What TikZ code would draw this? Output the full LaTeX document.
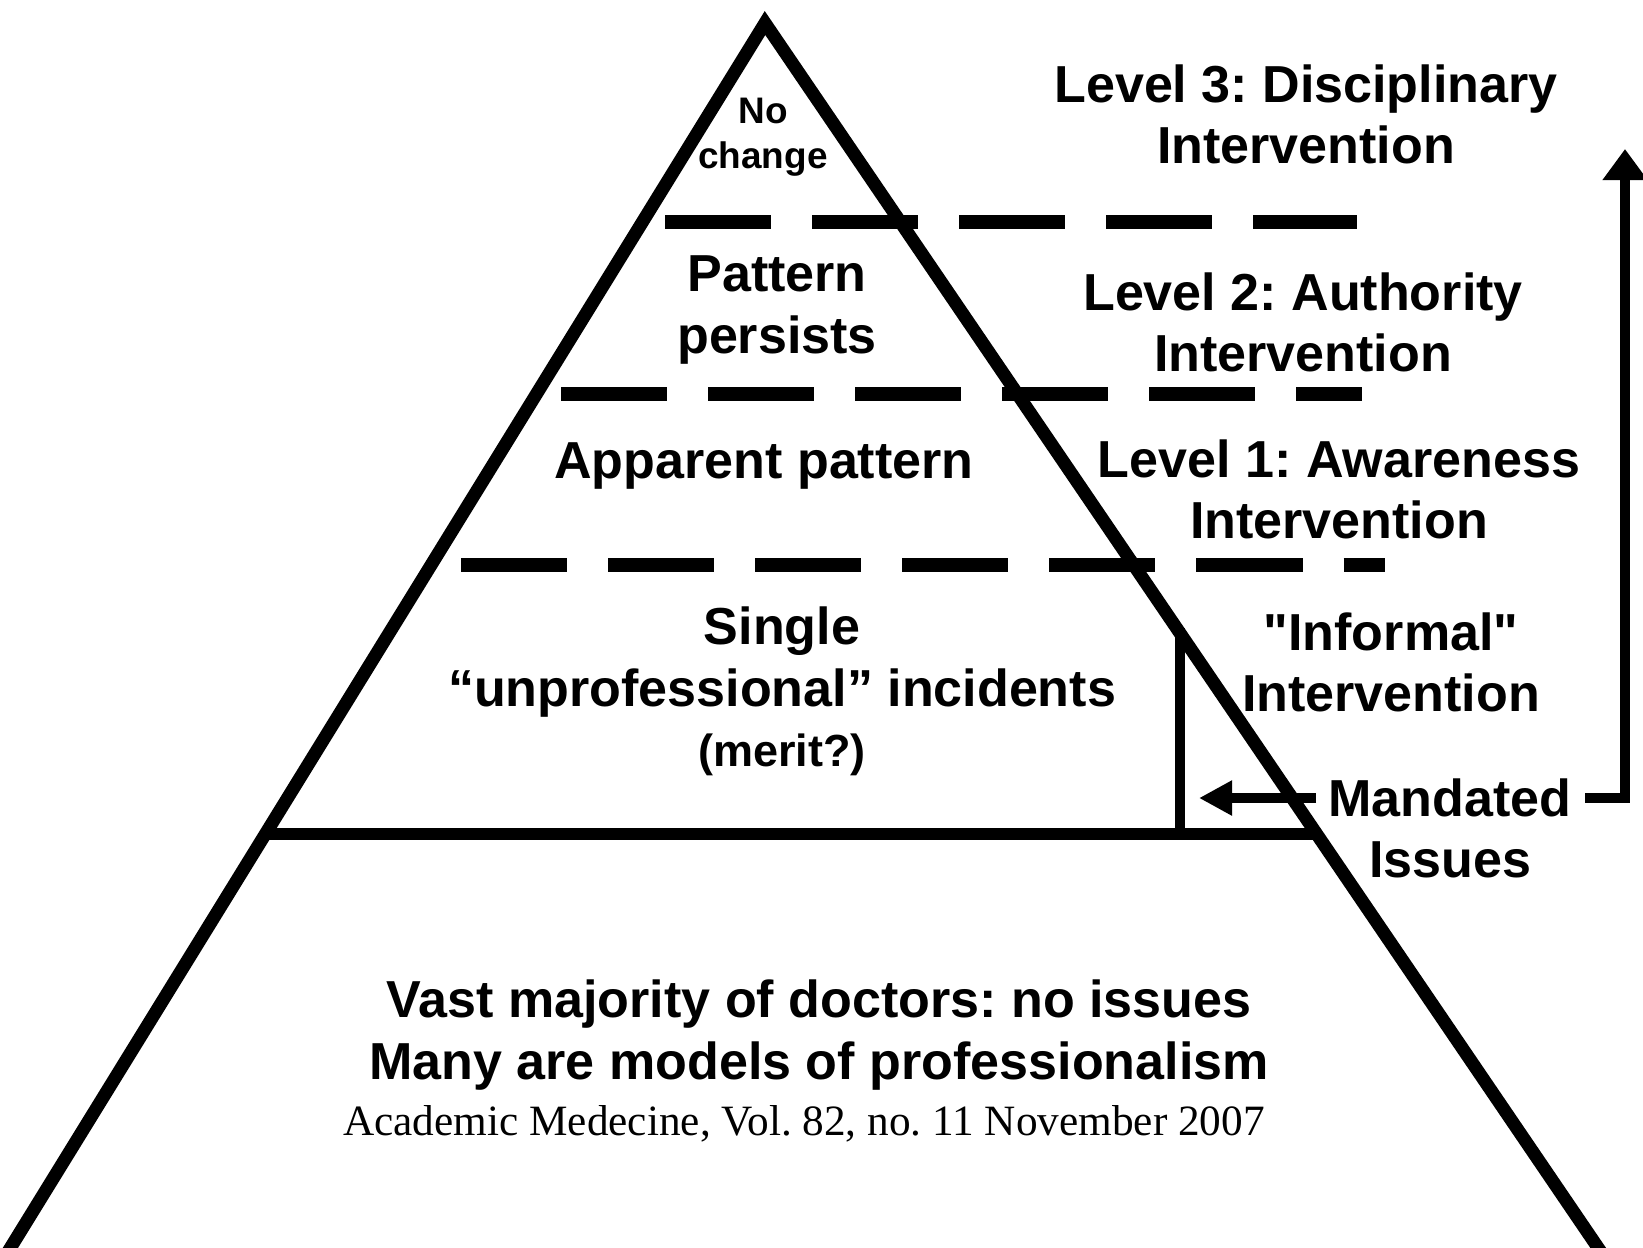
\documentclass[tikz,border=0pt]{standalone}
\usepackage{fontspec}
\setmainfont{Liberation Serif}
\setsansfont{Liberation Sans}
\usetikzlibrary{positioning,arrows.meta}

\begin{document}
\frenchspacing
\begin{tikzpicture}[x=0.01cm,y=-0.01cm,
        lbl/.style={font=\sffamily\bfseries\fontsize{14.8}{17.4}\selectfont,align=center,inner sep=0pt},
        small/.style={font=\sffamily\bfseries\fontsize{10.5}{12.8}\selectfont,align=center,inner sep=0pt},
        side/.style={line width=3.7pt,line join=miter},
        tier/.style={line width=4pt,dash pattern=on 1.06cm off 0.41cm},
        bigarrow/.style={line width=3.1pt,line join=miter}]
        \useasboundingbox (0,0) rectangle (1643,1247);

        \coordinate (apex) at (765,23);
        \coordinate (bl) at (6,1255);
        \coordinate (br) at (1603,1255);
        \draw[side] (bl) -- (apex) -- (br);

        \coordinate (b1) at (266,834);
        \coordinate (b2) at (1316,834);
        \coordinate (top) at (1180,628);
        \coordinate (foot) at (1180,834);
        \draw[line width=3.6pt] (b1) -- (b2);
        \draw[line width=2.8pt] (top) -- (foot);

        \coordinate (d1a) at (665,222);
        \coordinate (d1b) at (1357,222);
        \coordinate (d2a) at (561,394);
        \coordinate (d2b) at (1362,394);
        \coordinate (d3a) at (461,565);
        \coordinate (d3b) at (1385,565);
        \draw[tier] (d1a) -- (d1b);
        \draw[tier] (d2a) -- (d2b);
        \draw[tier] (d3a) -- (d3b);

        \node[small] (nochg) at (763,137) {No\\change};
        \node[lbl] (patt) at (777,310) {Pattern\\persists};
        \node[lbl] (appar) at (764,466) {Apparent pattern};
        \node[lbl] (single) at (782,662) {Single\\“unprofessional” incidents};
        \node[lbl,font=\sffamily\bfseries\fontsize{12.8}{15}\selectfont] (merit) at (782,755) {(merit?)};
        \node[lbl] (vast) at (819,1035) {Vast majority of doctors: no issues\\Many are models of professionalism};
        \node[font=\fontsize{12.3}{14}\selectfont,inner sep=0pt] (src) at (804,1124) {Academic Medecine, Vol. 82, no. 11 November 2007};

        \node[lbl] (lev3) at (1306,114) {Level 3: Disciplinary\\Intervention};
        \node[lbl] (lev2) at (1303,322) {Level 2: Authority\\Intervention};
        \node[lbl] (lev1) at (1339,489) {Level 1: Awareness\\Intervention};
        \node[lbl] (inf) at (1391,662) {\textquotedbl Informal\textquotedbl\\Intervention};
        \node[lbl] (mand) at (1450,828) {Mandated\\Issues};

        \coordinate (m1) at (1316,798);
        \coordinate (m2) at (1199,798);
        \coordinate (r1) at (1585,798);
        \coordinate (r2) at (1625,798);
        \coordinate (r3) at (1625,149);
        \draw[bigarrow,-{Triangle[length=0.33cm,width=0.33cm]}] (m1) -- (m2);
        \draw[bigarrow,-{Triangle[length=0.31cm,width=0.43cm]}] (r1) -- (r2) -- (r3);
\end{tikzpicture}
\end{document}
